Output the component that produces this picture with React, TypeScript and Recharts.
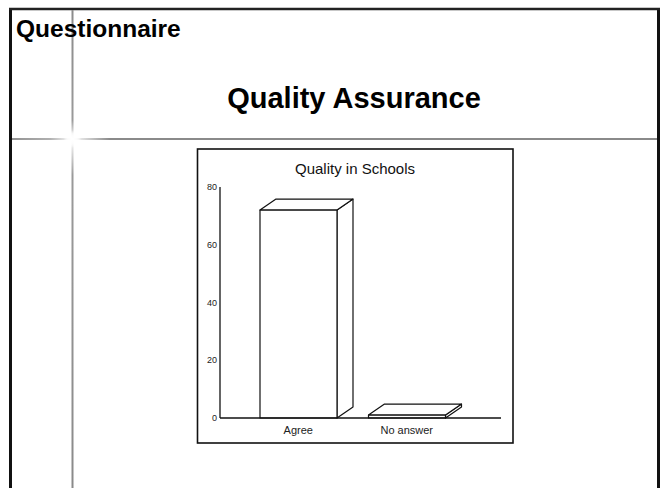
import React from "react";
import { BarChart, Bar, XAxis, YAxis } from "recharts";

const categories = ["Agree", "No answer"];
const values = [72, 1];
const yTicks = [0, 20, 40, 60, 80];

const data = categories.map((c, i) => ({ name: c, value: values[i] }));

const DX = 16;
const DY = 11;

const Bar3D = (props: any) => {
  const { x, y, width, height } = props;
  if (width == null || height == null) return null;
  const top = `${x},${y} ${x + DX},${y - DY} ${x + width + DX},${y - DY} ${x + width},${y}`;
  const side = `${x + width},${y} ${x + width + DX},${y - DY} ${x + width + DX},${y + height - DY} ${x + width},${y + height}`;
  return (
    <g stroke="#111" strokeWidth={1.2} fill="#fff" strokeLinejoin="round">
      <polygon points={side} />
      <polygon points={top} />
      <rect x={x} y={y} width={width} height={height} />
    </g>
  );
};

export default function App() {
  const font = "'Liberation Sans', Arial, Helvetica, sans-serif";
  return (
    <div
      style={{
        position: "absolute",
        left: 0,
        top: 0,
        width: 665,
        height: 488,
        background: "#fff",
        overflow: "hidden",
        fontFamily: font,
      }}
    >
      <svg width={665} height={488} style={{ position: "absolute", left: 0, top: 0 }}>
        <defs>
          <linearGradient id="vfade" x1="0" y1="0" x2="0" y2="488" gradientUnits="userSpaceOnUse">
            <stop offset="0" stopColor="#8a8a8a" />
            <stop offset={String(120 / 488)} stopColor="#9a9a9a" />
            <stop offset={String(139 / 488)} stopColor="#ffffff" />
            <stop offset={String(175 / 488)} stopColor="#9a9a9a" />
            <stop offset="1" stopColor="#8a8a8a" />
          </linearGradient>
          <linearGradient id="hfade" x1="0" y1="0" x2="665" y2="0" gradientUnits="userSpaceOnUse">
            <stop offset="0" stopColor="#8a8a8a" />
            <stop offset={String(50 / 665)} stopColor="#b0b0b0" />
            <stop offset={String(72 / 665)} stopColor="#ffffff" />
            <stop offset={String(110 / 665)} stopColor="#8a8a8a" />
            <stop offset="1" stopColor="#8a8a8a" />
          </linearGradient>
          <radialGradient id="glow">
            <stop offset="0" stopColor="#ffffff" stopOpacity="1" />
            <stop offset="0.6" stopColor="#ffffff" stopOpacity="0.7" />
            <stop offset="1" stopColor="#ffffff" stopOpacity="0" />
          </radialGradient>
        </defs>
        {/* outer frame */}
        <line x1={10.5} y1={9} x2={10.5} y2={488} stroke="#111" strokeWidth={3} />
        <line x1={658.5} y1={9} x2={658.5} y2={488} stroke="#111" strokeWidth={3} />
        <line x1={9} y1={9} x2={660} y2={9} stroke="#222" strokeWidth={2.5} />
        {/* decorative lines */}
        <line x1={12} y1={139} x2={657} y2={139} stroke="url(#hfade)" strokeWidth={2} />
        <line x1={72.5} y1={10} x2={72.5} y2={488} stroke="url(#vfade)" strokeWidth={2} />
        <circle cx={72.5} cy={139} r={9} fill="url(#glow)" />
        {/* inner chart box */}
        <rect x={197.5} y={149} width={315.5} height={294} fill="none" stroke="#111" strokeWidth={1.6} />
        <text x={16} y={37} fontFamily={font} fontWeight="bold" fontSize={24.5} fill="#000">
          Questionnaire
        </text>
        <text x={354} y={108} fontFamily={font} fontWeight="bold" fontSize={29} fill="#000" textAnchor="middle">
          Quality Assurance
        </text>
        <text x={355} y={174} fontFamily={font} fontSize={15} fill="#111" textAnchor="middle">
          Quality in Schools
        </text>
      </svg>
      <div style={{ position: "absolute", left: 197, top: 149 }}>
        <BarChart
          width={316}
          height={294}
          data={data}
          margin={{ top: 38, right: 12, bottom: 0, left: 0 }}
        >
          <XAxis
            dataKey="name"
            height={25}
            padding={{ left: 24, right: 40 }}
            axisLine={{ stroke: "#111", strokeWidth: 1.3 }}
            tickLine={false}
            tick={{ fontSize: 11, fill: "#222", fontFamily: font }}
            interval={0}
          />
          <YAxis
            width={23}
            domain={[0, 80]}
            ticks={yTicks}
            axisLine={{ stroke: "#111", strokeWidth: 1.3 }}
            tickLine={false}
            tickSize={3}
            tickMargin={0}
            tick={{ fontSize: 9, fill: "#222", fontFamily: font }}
          />
          <Bar dataKey="value" barSize={77} shape={Bar3D} isAnimationActive={false} />
        </BarChart>
      </div>
    </div>
  );
}
